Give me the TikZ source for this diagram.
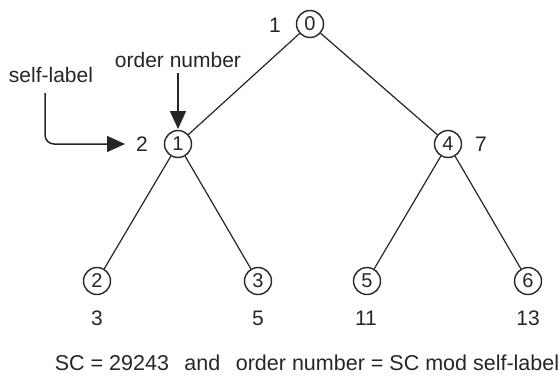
\documentclass[tikz,border=0pt]{standalone}
\usepackage{fontspec}
\setmainfont{Liberation Sans}
\usetikzlibrary{arrows.meta}
\begin{document}
\begin{tikzpicture}[x=1pt,y=-1pt,
  every node/.style={font=\fontsize{21}{25}\selectfont, text=black!85, inner sep=0pt},
  tnode/.style={circle, draw=black!85, line width=1.4pt, minimum size=27pt, font=\fontsize{20}{23}\selectfont},
  edge/.style={draw=black!85, line width=1.2pt},
  callout/.style={draw=black!85, line width=1.5pt, -{Triangle[length=18pt,width=16pt]}}]
\useasboundingbox (0,0) rectangle (560,378);
% tree nodes
\node[tnode] (n0) at (310,24) {0};
\node[tnode] (n1) at (178,144) {1};
\node[tnode] (n4) at (448,144) {4};
\node[tnode] (n2) at (97,281) {2};
\node[tnode] (n3) at (258,281) {3};
\node[tnode] (n5) at (367,281) {5};
\node[tnode] (n6) at (528,281) {6};
% edges
\draw[edge] (n0) -- (n1);
\draw[edge] (n0) -- (n4);
\draw[edge] (n1) -- (n2);
\draw[edge] (n1) -- (n3);
\draw[edge] (n4) -- (n5);
\draw[edge] (n4) -- (n6);
% self-labels
\node (l0) at (275,25) {1};
\node (l1) at (142,144) {2};
\node (l4) at (481,144) {7};
\node (l2) at (97,318) {3};
\node (l3) at (258,318) {5};
\node (l5) at (366,318) {11};
\node (l6) at (528,318) {13};
% callouts
\node (sl) at (51,75) {self-label};
\node (on) at (178,60) {order number};
\coordinate (slstart) at (45,93);
\coordinate (slend) at (125,144);
\coordinate (onstart) at (178,73);
\coordinate (onend) at (178,129);
\draw[callout, rounded corners=9pt] (slstart) |- (slend);
\draw[callout] (onstart) -- (onend);
% caption
\node[font=\fontsize{21.5}{25}\selectfont] (cap) at (307,363) {SC = 29243\ \ \,and\ \ \,order number = SC mod self-label};
\end{tikzpicture}
\end{document}
